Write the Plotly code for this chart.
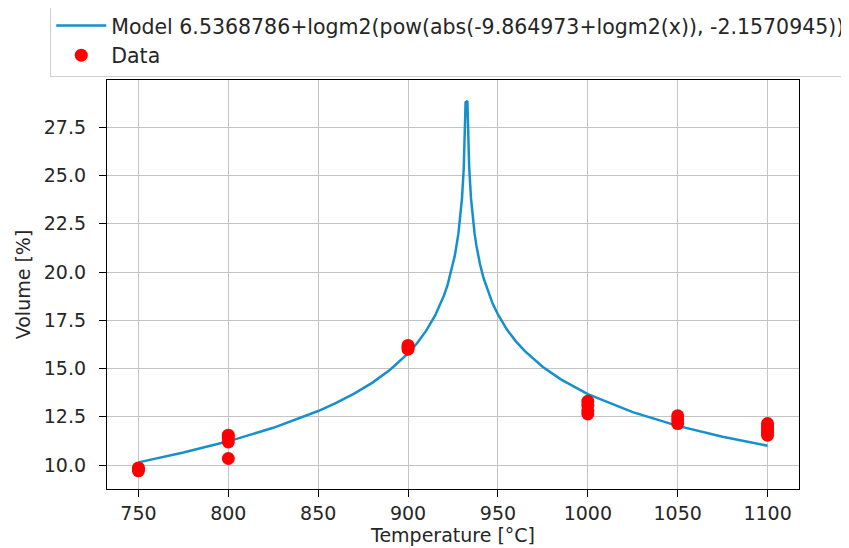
import plotly.graph_objects as go

# Model curve values
model_x = [750, 775, 800, 825, 850, 860, 870, 880, 890, 900, 905, 910, 915, 918, 920,
           922, 925, 926, 928, 929, 930, 931, 932, 933, 934, 935, 936, 937, 938, 940,
           942, 945, 947, 950, 955, 960, 965, 975, 985, 1000, 1025, 1050, 1075, 1100]
model_y = [10.14, 10.65, 11.23, 11.93, 12.80, 13.22, 13.70, 14.26, 14.94, 15.79, 16.31,
           16.95, 17.74, 18.33, 18.79, 19.34, 20.39, 20.84, 21.99, 22.77, 23.82, 25.40,
           28.79, 28.87, 25.43, 23.84, 22.79, 22.00, 21.38, 20.42, 19.69, 18.83, 18.38,
           17.80, 17.02, 16.41, 15.90, 15.08, 14.44, 13.68, 12.74, 12.03, 11.47, 11.00]

# Measured data
data_x = [750, 750, 750, 800, 800, 800, 800, 900, 900, 900,
          1000, 1000, 1000, 1000, 1050, 1050, 1050, 1100, 1100, 1100, 1100, 1100]
data_y = [9.70, 9.80, 9.85, 11.55, 11.40, 11.20, 10.34, 16.00, 16.10, 16.20,
          13.30, 13.10, 12.80, 12.65, 12.55, 12.35, 12.15, 12.15, 12.00, 11.85, 11.70, 11.55]

model_name = "Model 6.5368786+logm2(pow(abs(-9.864973+logm2(x)), -2.1570945))"

x_ticks = [750, 800, 850, 900, 950, 1000, 1050, 1100]
y_ticks = [10.0, 12.5, 15.0, 17.5, 20.0, 22.5, 25.0, 27.5]

FONT = "DejaVu Sans"
TXT = "#262626"

fig = go.Figure()
fig.add_trace(go.Scatter(x=model_x, y=model_y, mode="lines", name=model_name,
                         line=dict(color="#1590cc", width=2.5)))
fig.add_trace(go.Scatter(x=data_x, y=data_y, mode="markers", name="Data",
                         marker=dict(color="#ff0000", size=13, line=dict(width=0))))

axis_common = dict(showline=True, linecolor="black", linewidth=1.2, mirror=True,
                   ticks="outside", ticklen=7, tickcolor="black", tickwidth=1,
                   showgrid=True, gridcolor="#c4c4c4", gridwidth=1, zeroline=False,
                   tickfont=dict(family=FONT, size=19, color=TXT))

fig.update_xaxes(range=[732.5, 1117.5], tickvals=x_ticks,
                 ticktext=[str(v) for v in x_ticks],
                 title=dict(text="Temperature [°C]", font=dict(family=FONT, size=19, color=TXT),
                            standoff=2),
                 ticklabelstandoff=0,
                 **axis_common)
fig.update_yaxes(range=[8.76, 29.95], tickvals=y_ticks,
                 ticktext=[f"{v:.1f}" for v in y_ticks],
                 title=dict(text="Volume [%]", font=dict(family=FONT, size=19, color=TXT),
                            standoff=8),
                 ticklabelstandoff=9,
                 **axis_common)

# The page body adds an 8px offset, so the figure is 8px smaller and margins shifted.
fig.update_layout(
    width=841, height=540,
    margin=dict(l=99, r=50, t=72, b=59, autoexpand=False),
    paper_bgcolor="white", plot_bgcolor="white",
    font=dict(family=FONT, size=19, color=TXT),
    showlegend=True,
    legend=dict(x=-0.0820, xanchor="left", y=1.184, yanchor="top",
                bgcolor="white", bordercolor="#d0d0d0", borderwidth=1,
                font=dict(family=FONT, size=20.5, color=TXT),
                itemwidth=50, tracegroupgap=0),
)

fig.write_html("out.html")
